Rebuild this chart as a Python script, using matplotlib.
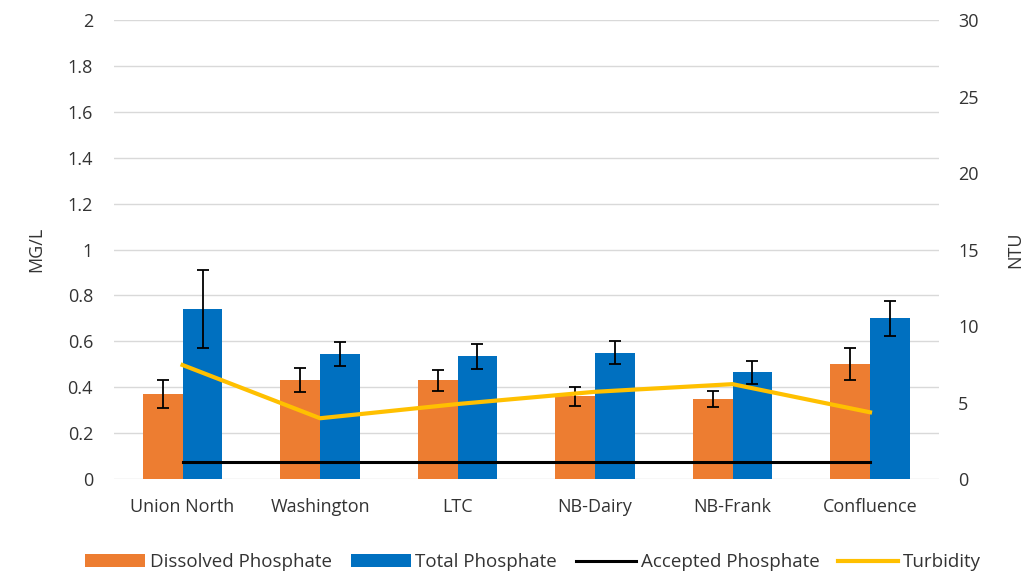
import matplotlib.pyplot as plt
import numpy as np

# Donnees
sites = ['Union North', 'Washington', 'LTC', 'NB-Dairy', 'NB-Frank', 'Confluence']
dissolved = [0.37, 0.43, 0.43, 0.36, 0.35, 0.50]
dissolved_err = [0.06, 0.053, 0.045, 0.04, 0.035, 0.07]
total = [0.74, 0.545, 0.535, 0.55, 0.465, 0.70]
total_err = [0.17, 0.053, 0.054, 0.05, 0.05, 0.075]
accepted = [0.073, 0.073, 0.073, 0.073, 0.073, 0.073]
turbidity = [7.45, 3.97, 4.9, 5.7, 6.2, 4.36]

gris = '#333333'
plt.rcParams['font.family'] = ['Open Sans', 'DejaVu Sans']

fig = plt.figure(figsize=(10.35, 5.75), dpi=100)
ax = fig.add_axes([0.110, 0.167, 0.797, 0.798])
ax2 = ax.twinx()

x = np.arange(len(sites))
w = 0.29
ax.bar(x - w / 2, dissolved, w, color='#ED7D31', yerr=dissolved_err, capsize=4.5,
       error_kw=dict(elinewidth=1.3, capthick=1.3, ecolor='black'), label='Dissolved Phosphate', zorder=2)
ax.bar(x + w / 2, total, w, color='#0070C0', yerr=total_err, capsize=4.5,
       error_kw=dict(elinewidth=1.3, capthick=1.3, ecolor='black'), label='Total Phosphate', zorder=2)
ax.plot(x, accepted, color='black', lw=2.2, label='Accepted Phosphate', zorder=3)

ax2.plot(x, turbidity, color='#FFC000', lw=3, label='Turbidity', zorder=3)

ax.set_xlim(-0.5, len(sites) - 0.5)
ax.set_ylim(0, 2)
ax.set_yticks(np.arange(0, 2.01, 0.2))
ax.set_yticklabels(['0', '0.2', '0.4', '0.6', '0.8', '1', '1.2', '1.4', '1.6', '1.8', '2'])
ax2.set_ylim(0, 30)
ax2.set_yticks(range(0, 31, 5))

ax.set_xticks(x)
ax.set_xticklabels(sites)
ax.grid(axis='y', color='#D9D9D9', lw=1, zorder=0)
ax.set_axisbelow(True)

for a in (ax, ax2):
    for s in a.spines.values():
        s.set_visible(False)
    a.tick_params(length=0, labelsize=13, colors=gris)
ax.tick_params(axis='y', pad=15)
ax2.tick_params(axis='y', pad=14)
ax.tick_params(axis='x', pad=14)

ax.set_ylabel('MG/L', fontsize=13, color=gris, labelpad=16)
ax2.set_ylabel('NTU', fontsize=13, color=gris, labelpad=20)

h1, l1 = ax.get_legend_handles_labels()
h2, l2 = ax2.get_legend_handles_labels()
order = [1, 2, 0]
handles = [h1[i] for i in order] + h2
labels = [l1[i] for i in order] + l2
fig.legend(handles, labels, loc='center', bbox_to_anchor=(0.515, 0.022), ncol=4, frameon=False,
           fontsize=13.5, labelcolor=gris, handlelength=3.2, handletextpad=0.25, columnspacing=1.0)

plt.savefig('out.png')
